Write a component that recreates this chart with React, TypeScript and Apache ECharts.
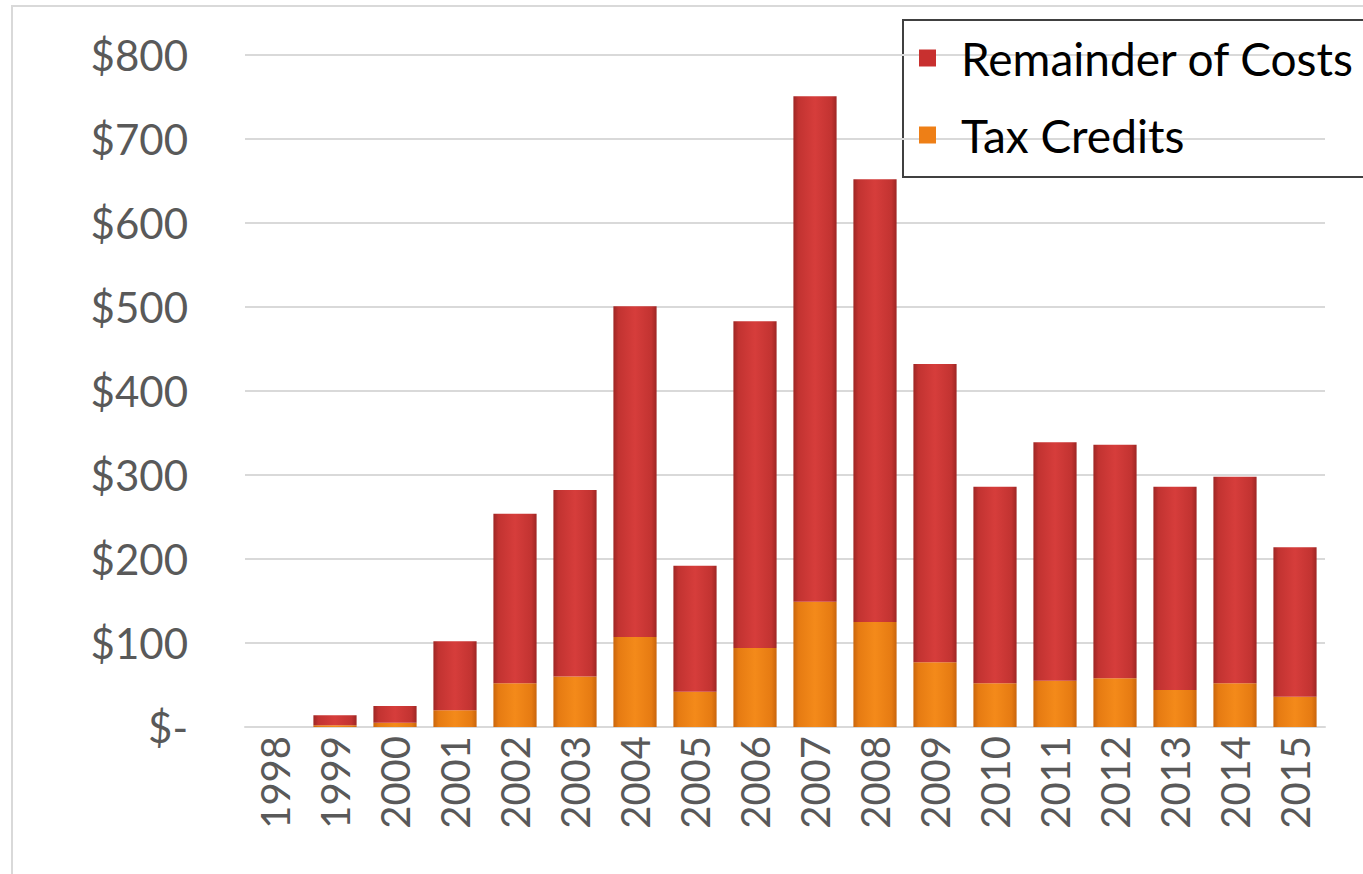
import React, { useEffect, useRef } from "react";
import * as echarts from "echarts";

const years = ["1998","1999","2000","2001","2002","2003","2004","2005","2006","2007","2008","2009","2010","2011","2012","2013","2014","2015"];
const taxCredits = [0, 2, 5, 20, 52, 60, 107, 42, 94, 149, 125, 77, 52, 55, 58, 44, 52, 36];
const totalCosts = [0, 14, 25, 102, 254, 282, 501, 192, 483, 751, 652, 432, 286, 339, 336, 286, 298, 214];
const remainder = totalCosts.map((t, i) => t - taxCredits[i]);
const yTicks = [0, 100, 200, 300, 400, 500, 600, 700, 800];

const FONT = "Lato, 'Open Sans', sans-serif";

export default function App() {
  const ref = useRef<HTMLDivElement>(null);
  useEffect(() => {
    if (!ref.current) return;
    const chart = echarts.init(ref.current, null, { renderer: "svg" });
    const redGrad = new echarts.graphic.LinearGradient(0, 0, 1, 0, [
      { offset: 0, color: "#9e2624" },
      { offset: 0.12, color: "#c23331" },
      { offset: 0.5, color: "#d63d3b" },
      { offset: 0.88, color: "#c23331" },
      { offset: 1, color: "#9e2624" },
    ]);
    const orangeGrad = new echarts.graphic.LinearGradient(0, 0, 1, 0, [
      { offset: 0, color: "#c9650c" },
      { offset: 0.12, color: "#e67b12" },
      { offset: 0.5, color: "#f48a1a" },
      { offset: 0.88, color: "#e67b12" },
      { offset: 1, color: "#c9650c" },
    ]);
    chart.setOption({
      animation: false,
      backgroundColor: "#ffffff",
      grid: { left: 245, right: 38, top: 55, bottom: 147, containLabel: false },
      legend: {
        orient: "vertical",
        left: 919,
        top: 35,
        padding: 0,
        icon: "rect",
        itemWidth: 17,
        itemHeight: 17,
        itemGap: 31,
        textStyle: {
          fontSize: 46,
          lineHeight: 46,
          color: "#000000",
          fontFamily: FONT,
          padding: [0, 0, 0, 20],
        },
        data: [
          { name: "Remainder of Costs", itemStyle: { color: "#c8302f" } },
          { name: "Tax Credits", itemStyle: { color: "#ee7f16" } },
        ],
      },
      graphic: [
        {
          type: "rect",
          shape: { x: 12, y: 6, width: 1360, height: 880 },
          style: { fill: "none", stroke: "#d9d9d9", lineWidth: 2 },
          silent: true,
        },
        {
          type: "rect",
          shape: { x: 903, y: 20, width: 470, height: 157 },
          style: { fill: "#ffffff", stroke: "#404040", lineWidth: 2 },
          z: -1,
          silent: true,
        },
      ],
      xAxis: {
        type: "category",
        data: years,
        axisLine: { show: true, lineStyle: { color: "#d9d9d9", width: 2 } },
        axisTick: { show: false },
        axisLabel: {
          rotate: 90,
          fontSize: 40,
          color: "#595959",
          fontFamily: FONT,
          margin: 9,
          interval: 0,
        },
      },
      yAxis: {
        type: "value",
        min: 0,
        max: 800,
        interval: 100,
        axisLine: { show: false },
        axisTick: { show: false },
        splitLine: { lineStyle: { color: "#d9d9d9", width: 2 } },
        axisLabel: {
          fontSize: 42,
          color: "#595959",
          fontFamily: FONT,
          margin: 57,
          formatter: (v: number) => (yTicks.includes(v) ? (v === 0 ? "$-" : "$" + v) : ""),
        },
      },
      series: [
        {
          name: "Tax Credits",
          type: "bar",
          stack: "total",
          data: taxCredits,
          barWidth: "72%",
          itemStyle: { color: orangeGrad },
        },
        {
          name: "Remainder of Costs",
          type: "bar",
          stack: "total",
          data: remainder,
          barWidth: "72%",
          itemStyle: { color: redGrad },
        },
      ],
    });
    return () => chart.dispose();
  }, []);
  return (
    <div
      ref={ref}
      style={{ position: "fixed", left: 0, top: 0, width: 1363, height: 874 }}
    />
  );
}
